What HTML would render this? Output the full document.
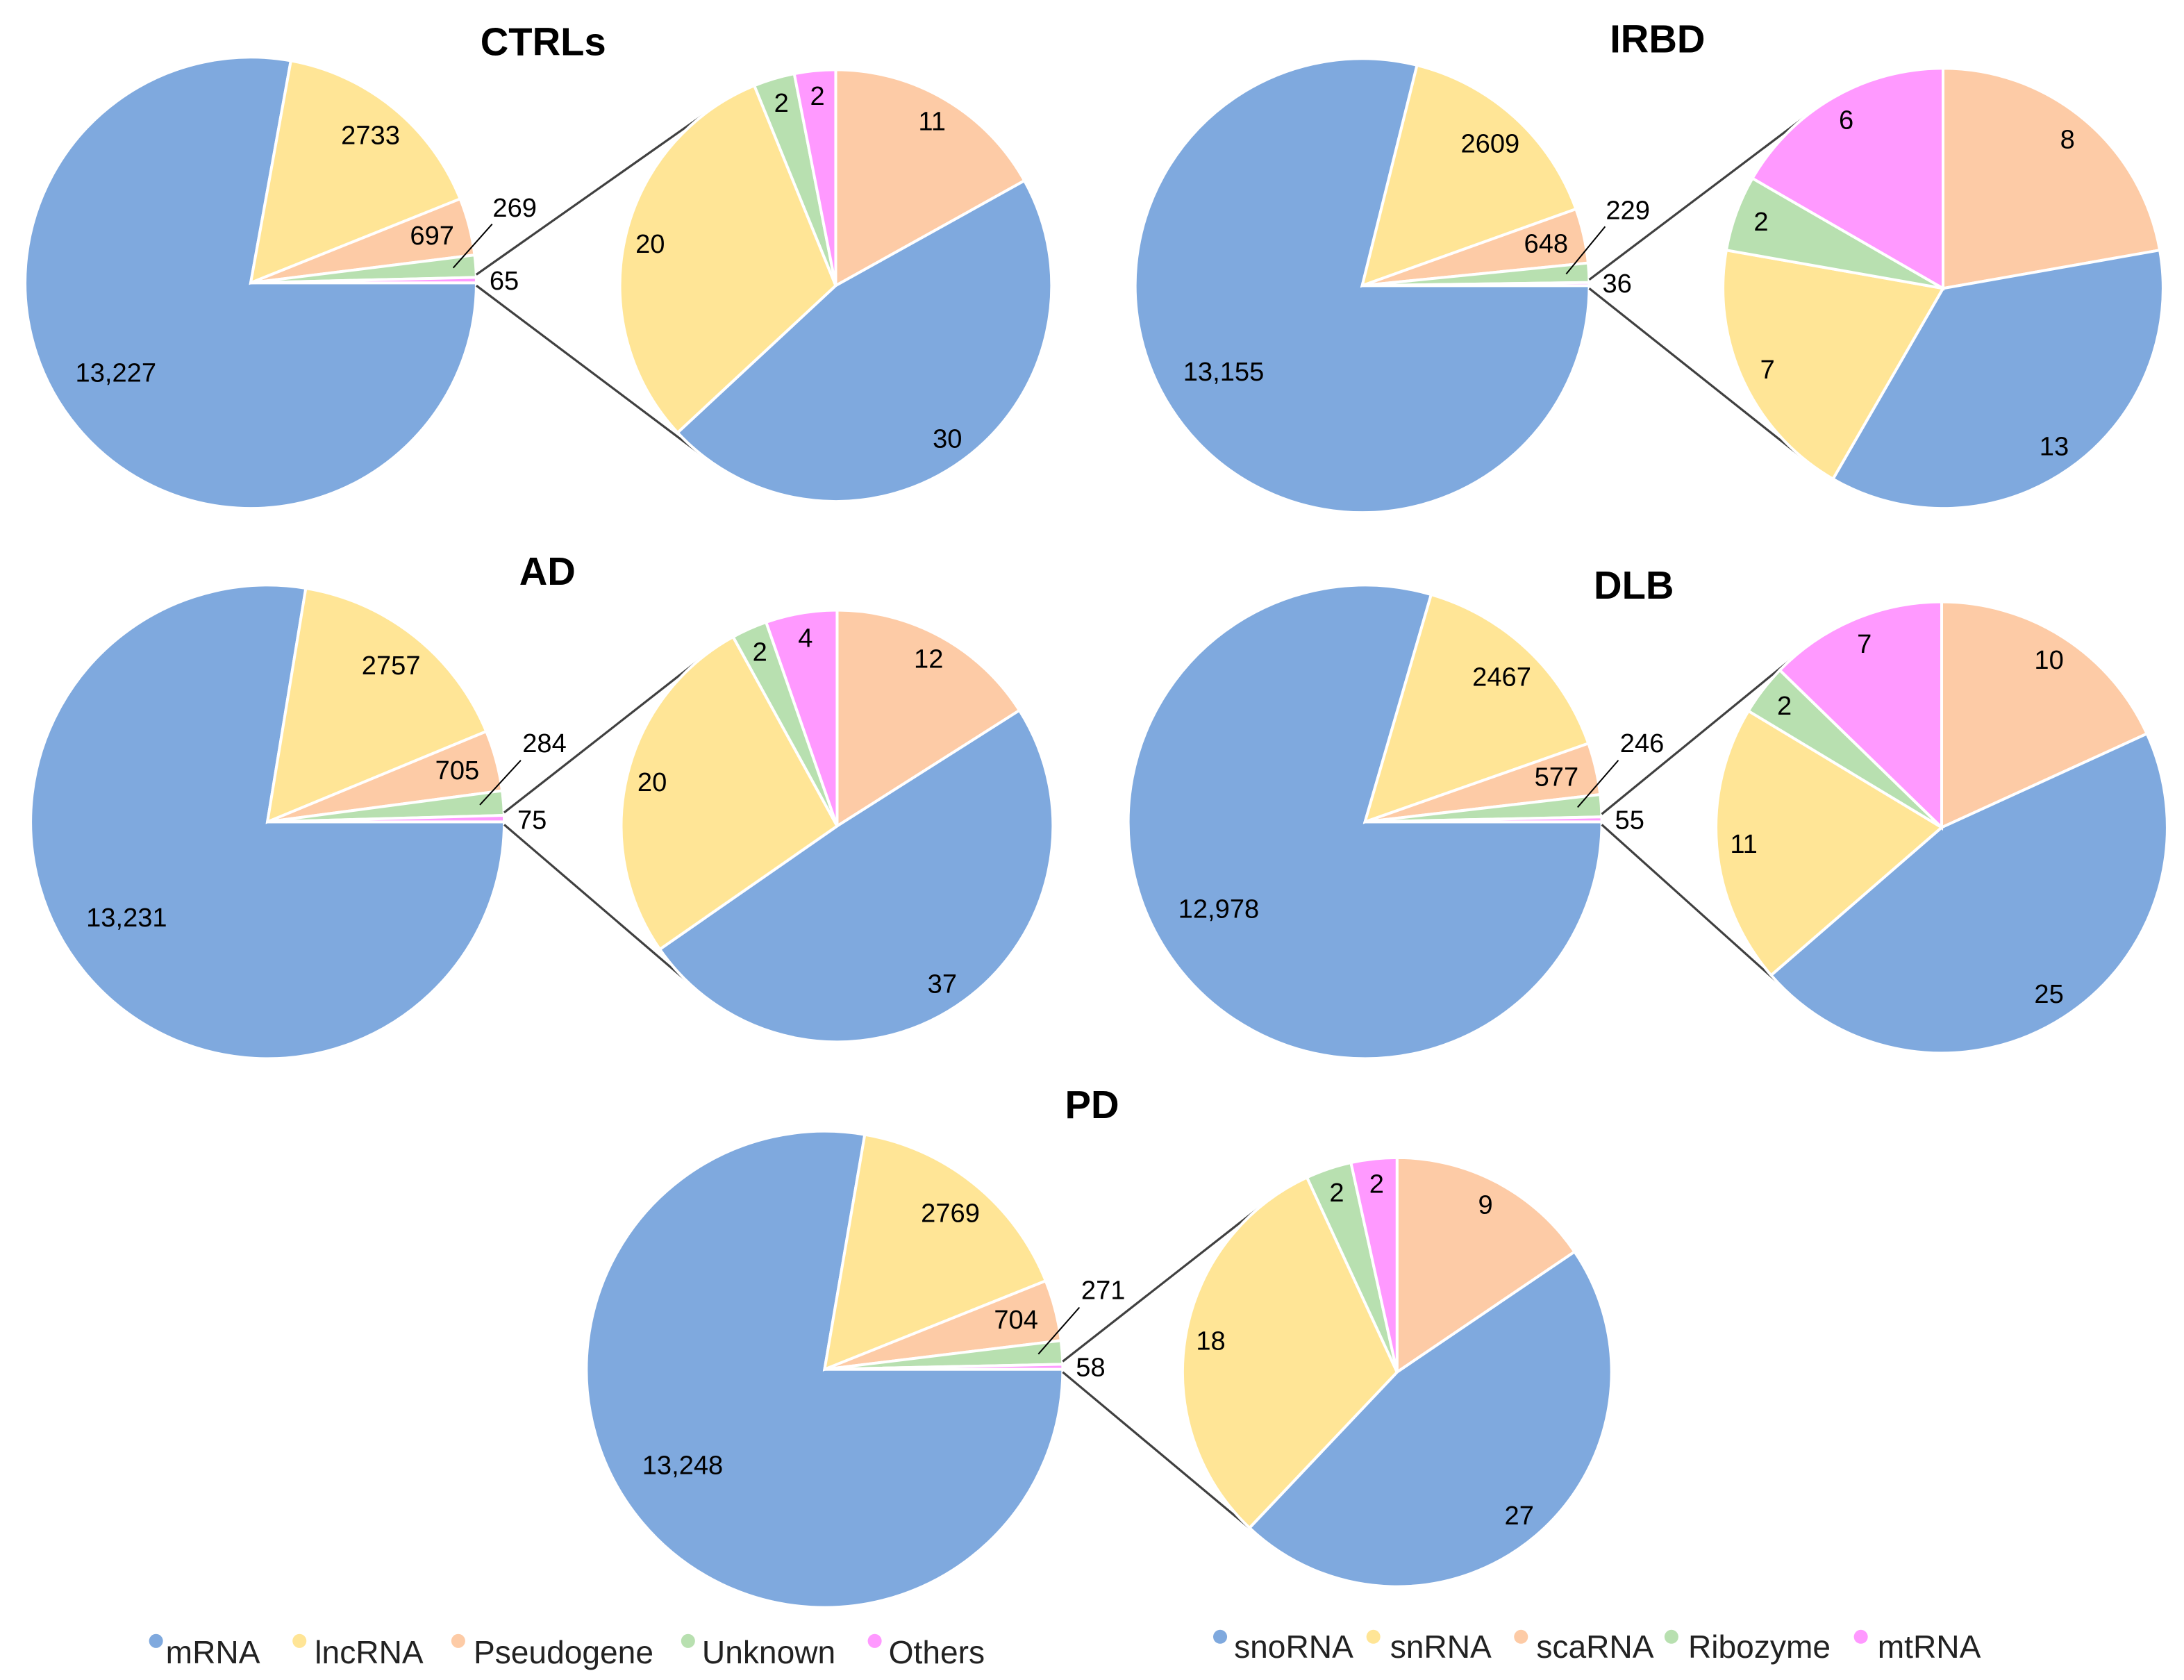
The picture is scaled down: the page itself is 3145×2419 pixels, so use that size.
<!DOCTYPE html>
<html><head><meta charset="utf-8">
<style>
html,body{margin:0;padding:0;background:#fff;}
svg{display:block;}
text{font-family:"Liberation Sans","DejaVu Sans",sans-serif;}
</style></head>
<body>
<svg id="chart" width="3145" height="2419" viewBox="0 0 1568 1206" xmlns="http://www.w3.org/2000/svg">
<rect width="1568" height="1206" fill="#fff"/>
<g id="legend-left"></g>
<g id="legend-right"></g>
</svg>
<script>
const panelNames = ["CTRLs","IRBD","AD","DLB","PD"];
const mainCategories = ["mRNA","lncRNA","Pseudogene","Unknown","Others"];
const subCategories = ["snoRNA","snRNA","scaRNA","Ribozyme","mtRNA"];
const mainCTRLs = [13227,2733,697,269,65];
const mainIRBD = [13155,2609,648,229,36];
const mainAD = [13231,2757,705,284,75];
const mainDLB = [12978,2467,577,246,55];
const mainPD = [13248,2769,704,271,58];
const subCTRLs = [30,20,11,2,2];
const subIRBD = [13,7,8,2,6];
const subAD = [37,20,12,2,4];
const subDLB = [25,11,10,2,7];
const subPD = [27,18,9,2,2];
const mainLabelsCTRLs = ["13,227","2733","697","269","65"];
const mainLabelsIRBD = ["13,155","2609","648","229","36"];
const mainLabelsAD = ["13,231","2757","705","284","75"];
const mainLabelsDLB = ["12,978","2467","577","246","55"];
const mainLabelsPD = ["13,248","2769","704","271","58"];

const mainColors = ["#7FA9DE","#FFE596","#FDCBA6","#B8E0B0","#FF99FF"];
const subColors = ["#7FA9DE","#FFE596","#FDCBA6","#B8E0B0","#FF99FF"];
const layout = [
 {mc:[180,203,162], sc:[600,205,155], t:[390,30]},
 {mc:[978,205,163], sc:[1395,207,158], t:[1190,28]},
 {mc:[192,590,170], sc:[601,593,155], t:[393,410]},
 {mc:[980,590,170], sc:[1394,594,162], t:[1173,420]},
 {mc:[592,983,171], sc:[1003,985,154], t:[784,793]}
];
const mains=[mainCTRLs,mainIRBD,mainAD,mainDLB,mainPD];
const subs=[subCTRLs,subIRBD,subAD,subDLB,subPD];
const mainLabels=[mainLabelsCTRLs,mainLabelsIRBD,mainLabelsAD,mainLabelsDLB,mainLabelsPD];
const NS="http://www.w3.org/2000/svg";
const svg=document.getElementById('chart');
function mk(tag,attrs,parent){const e=document.createElementNS(NS,tag);for(const k in attrs)e.setAttribute(k,attrs[k]);(parent||svg).appendChild(e);return e;}
function pt(cx,cy,r,a){const t=a*Math.PI/180;return [cx+r*Math.cos(t),cy-r*Math.sin(t)];}
function arc(cx,cy,r,a0,a1){
  const p0=pt(cx,cy,r,a0),p1=pt(cx,cy,r,a1);const large=(a1-a0)>180?1:0;
  return `M${cx},${cy}L${p0[0]},${p0[1]}A${r},${r} 0 ${large} 0 ${p1[0]},${p1[1]}Z`;}
function txt(x,y,s,size,parent,weight){const t=mk('text',{x:x,y:y,'font-size':size,'text-anchor':'middle','dominant-baseline':'central',fill:'#000'},parent);if(weight)t.setAttribute('font-weight',weight);t.textContent=s;return t;}

panelNames.forEach((name,pi)=>{
  const L=layout[pi];const g=mk('g',{});
  
  
  const tt=txt(L.t[0],L.t[1],name,28,g,'bold');
  
  
  const [cx,cy,r]=L.mc;const vals=mains[pi];const tot=vals.reduce((a,b)=>a+b,0);
  let a=0;const mids=[];const spans=[];
  for(let i=vals.length-1;i>=0;i--){const sp=vals[i]/tot*360;spans[i]=[a,a+sp];mids[i]=a+sp/2;a+=sp;}
  for(let i=0;i<vals.length;i++){
    const p=mk('path',{d:arc(cx,cy,r,spans[i][0],spans[i][1]),fill:mainColors[i],stroke:'#fff','stroke-width':2},g);
    
    
  }
  const labs=mainLabels[pi];
  let q=pt(cx,cy,r*0.72,mids[0]-6);let t=txt(q[0],q[1],labs[0],19,g);
  
  q=pt(cx,cy,r*0.84,mids[1]);t=txt(q[0],q[1],labs[1],19,g);
  
  q=pt(cx,cy,r*0.83,mids[2]);t=txt(q[0],q[1],labs[2],19,g);
  
  const lp=pt(cx,cy,r*0.9,mids[3]);const le=[cx+r*1.07,cy-r*0.26];
  const ln=mk('line',{x1:lp[0],y1:lp[1],x2:le[0],y2:le[1],stroke:'#000','stroke-width':1},g);
  
  t=txt(cx+r*1.17,cy-r*0.33,labs[3],19,g);
  
  t=txt(cx+r+20,cy-1,labs[4],19,g);
  
  const [sx,sy,sr]=L.sc;
  const m1=pt(cx,cy,r,spans[4][1]),m2=pt(cx,cy,r,spans[4][0]);
  const s1=pt(sx,sy,sr,127),s2=pt(sx,sy,sr,-127);
  let c=mk('line',{x1:m1[0],y1:m1[1]-2,x2:s1[0],y2:s1[1],stroke:'#404040','stroke-width':1.6},g);
  
  c=mk('line',{x1:m2[0],y1:m2[1]+2,x2:s2[0],y2:s2[1],stroke:'#404040','stroke-width':1.6},g);
  
  const order=[2,0,1,3,4];const sv=subs[pi];const st=sv.reduce((a,b)=>a+b,0);
  let th=0;
  order.forEach(k=>{
    const sp=sv[k]/st*360;const a0=90-th-sp,a1=90-th;
    const p=mk('path',{d:arc(sx,sy,sr,a0,a1),fill:subColors[k],stroke:'#fff','stroke-width':2},g);
    
    
    const lq=pt(sx,sy,sr*0.88,90-th-sp/2);
    const lt=txt(lq[0],lq[1],String(sv[k]),19,g);
    
    
    th+=sp;
  });
});

const legLeftDot=[112,215,329,494,628];
const legLeftText=[119,226,340,504,638];
const legRightDot=[876,986,1092,1200,1336];
const legRightText=[886,998,1103,1212,1348];
const lg=document.getElementById('legend-left'),rg=document.getElementById('legend-right');
mainCategories.forEach((n,i)=>{
  const d=mk('circle',{cx:legLeftDot[i],cy:1178,r:5,fill:mainColors[i]},lg);
  
  const t=mk('text',{x:legLeftText[i],y:1194,'font-size':23,fill:'#222'},lg);t.textContent=n;
  
});
subCategories.forEach((n,i)=>{
  const d=mk('circle',{cx:legRightDot[i],cy:1175,r:5,fill:subColors[i]},rg);
  
  const t=mk('text',{x:legRightText[i],y:1190,'font-size':23,fill:'#222'},rg);t.textContent=n;
  
});
</script>
</body></html>
